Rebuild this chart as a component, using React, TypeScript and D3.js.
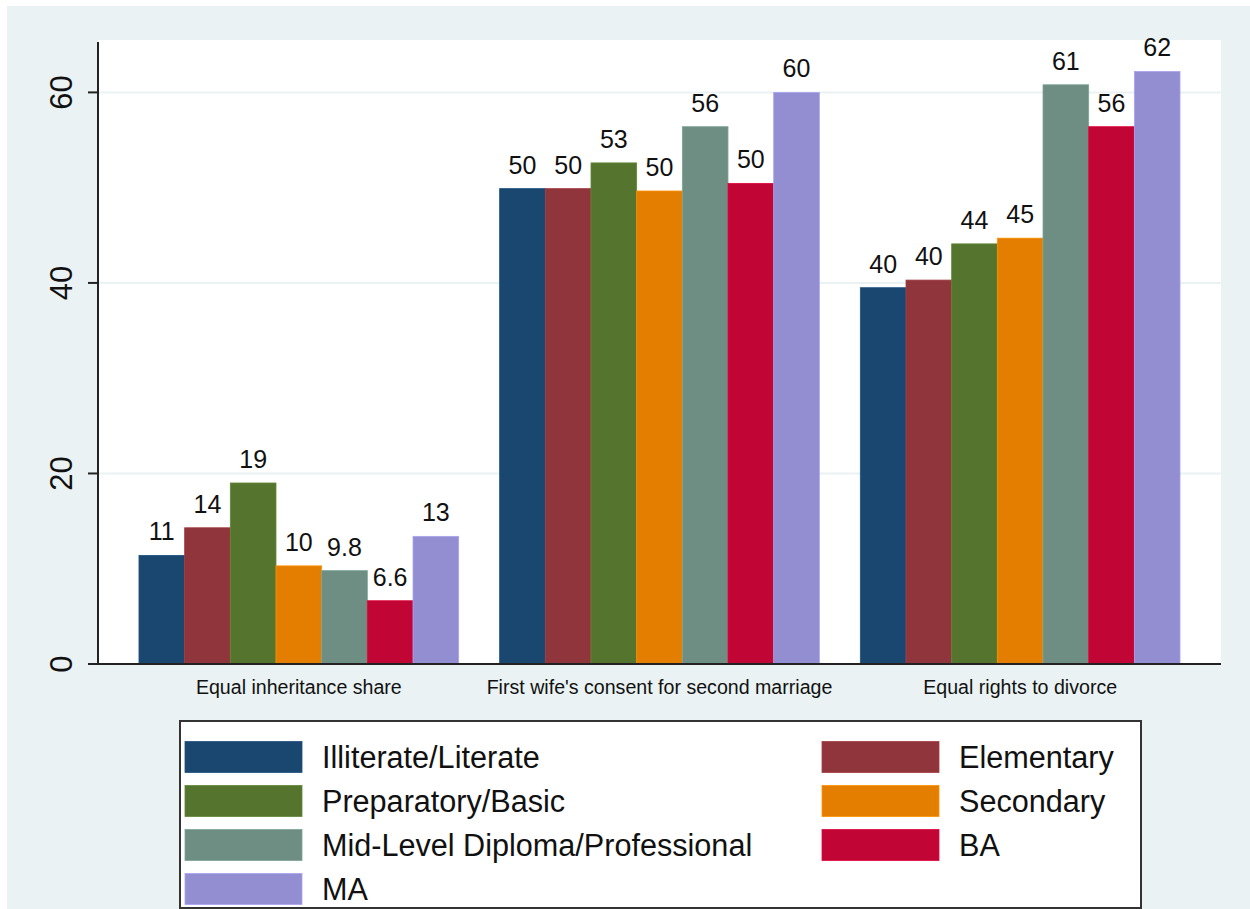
import React from 'react';
import * as d3 from 'd3';

const categories = [
    'Equal inheritance share',
    "First wife's consent for second marriage",
    'Equal rights to divorce',
];

const series = [
    'Illiterate/Literate',
    'Elementary',
    'Preparatory/Basic',
    'Secondary',
    'Mid-Level Diploma/Professional',
    'BA',
    'MA',
];

// one array per category, in series order
const inheritanceValues = [11.4, 14.3, 19.0, 10.3, 9.8, 6.64, 13.4];
const consentValues = [49.9, 49.9, 52.6, 49.65, 56.4, 50.45, 60.0];
const divorceValues = [39.5, 40.3, 44.1, 44.7, 60.8, 56.4, 62.2];

const yTicks = [0, 20, 40, 60];

const colors = ['#1a476f', '#90353b', '#55752f', '#e37e00', '#6e8e84', '#c10534', '#938dd2'];

const font = '"Liberation Sans", Arial, sans-serif';

const App: React.FC = () => {
    const width = 1250;
    const height = 909;
    const plot = { left: 98, right: 1221, top: 40, bottom: 664 };

    const valuesByCategory = [inheritanceValues, consentValues, divorceValues];

    const x = d3.scaleBand<string>()
        .domain(categories)
        .range([plot.left, plot.right])
        .paddingInner(0.1136)
        .paddingOuter(0.1136);

    const xInner = d3.scaleBand<string>()
        .domain(series)
        .range([0, x.bandwidth()]);

    const y = d3.scaleLinear()
        .domain([0, 65.5])
        .range([plot.bottom, plot.top]);

    const fmt = d3.format('.2');

    // legend layout: two columns, rows filled left to right
    const legendBox = { x: 180, y: 721, w: 961, h: 187 };
    const legendCols = [185, 822];
    const swatchW = 117;
    const swatchH = 31;
    const rowY = d3.scaleLinear().domain([0, 1]).range([741.5, 785.5]);

    return (
        <svg width={width} height={height} style={{ position: 'absolute', left: 0, top: 0 }}
            fontFamily={font}>
            <rect x={0} y={0} width={width} height={height} fill="#ffffff" />
            <rect x={7} y={6} width={width - 7} height={height - 6} fill="#eaf2f3" />
            <rect x={plot.left} y={plot.top} width={plot.right - plot.left}
                height={plot.bottom - plot.top} fill="#ffffff" />

            {/* grid */}
            {yTicks.filter(t => t > 0).map(t => (
                <line key={'g' + t} x1={plot.left} x2={plot.right} y1={y(t)} y2={y(t)}
                    stroke="#eaf2f3" strokeWidth={2} />
            ))}

            {/* bars */}
            {categories.map((c, ci) => (
                <g key={c} transform={`translate(${x(c)},0)`}>
                    {series.map((s, si) => {
                        const v = valuesByCategory[ci][si];
                        const bx = xInner(s) as number;
                        return (
                            <g key={s}>
                                <rect x={bx} y={y(v)} width={xInner.bandwidth()}
                                    height={y(0) - y(v)} fill={colors[si]}
                                    stroke={d3.color(colors[si])!.brighter(0.4).formatHex()}
                                    strokeWidth={0.8} />
                                <text x={bx + xInner.bandwidth() / 2} y={y(v) - 15}
                                    textAnchor="middle" fontSize={25} fill="#111">
                                    {fmt(v)}
                                </text>
                            </g>
                        );
                    })}
                </g>
            ))}

            {/* axes */}
            <line x1={plot.left} x2={plot.left} y1={plot.top + 2} y2={plot.bottom}
                stroke="#222" strokeWidth={2} />
            <line x1={plot.left - 10} x2={plot.right} y1={plot.bottom} y2={plot.bottom}
                stroke="#222" strokeWidth={2} />
            {yTicks.map(t => (
                <g key={'t' + t}>
                    <line x1={plot.left - 10} x2={plot.left} y1={y(t)} y2={y(t)}
                        stroke="#222" strokeWidth={2} />
                    <text transform={`translate(72,${y(t)}) rotate(-90)`} textAnchor="middle"
                        fontSize={31} fill="#111">
                        {t}
                    </text>
                </g>
            ))}
            {categories.map(c => (
                <text key={'x' + c} x={(x(c) as number) + x.bandwidth() / 2} y={694}
                    textAnchor="middle" fontSize={19.6} fill="#111">
                    {c}
                </text>
            ))}

            {/* legend */}
            <rect x={legendBox.x} y={legendBox.y} width={legendBox.w} height={legendBox.h}
                fill="#ffffff" stroke="#333" strokeWidth={2} />
            {series.map((s, i) => {
                const col = i % 2;
                const row = Math.floor(i / 2);
                const sx = legendCols[col];
                const sy = rowY(row);
                return (
                    <g key={'l' + s}>
                        <rect x={sx} y={sy} width={swatchW} height={swatchH} fill={colors[i]}
                            stroke={d3.color(colors[i])!.brighter(0.4).formatHex()} strokeWidth={0.8} />
                        <text x={sx + swatchW + 20} y={sy + swatchH / 2 + 11} fontSize={30.6} fill="#111">
                            {s}
                        </text>
                    </g>
                );
            })}
        </svg>
    );
};

export default App;
